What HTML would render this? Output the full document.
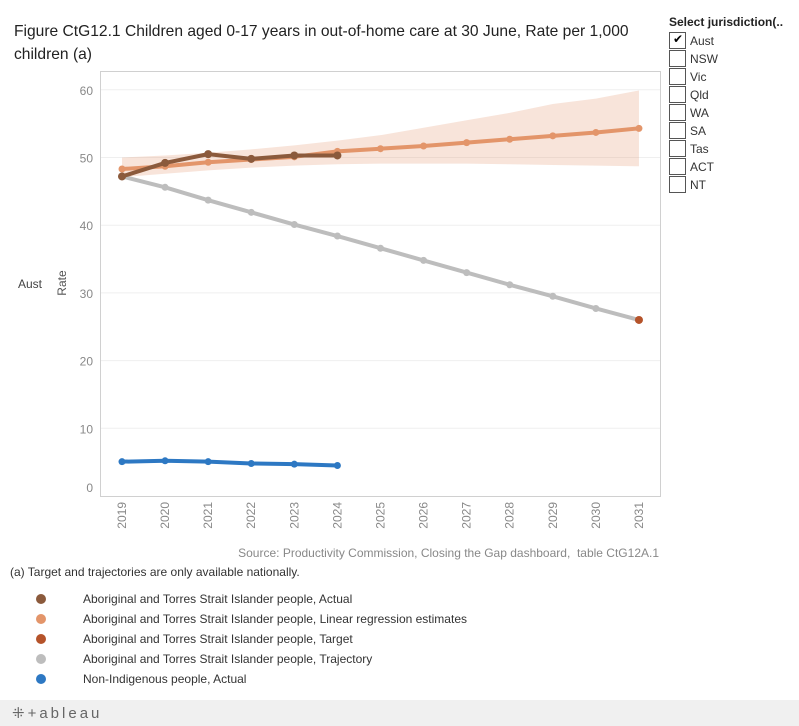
<!DOCTYPE html>
<html><head><meta charset="utf-8"><style>
body{margin:0;width:799px;height:726px;background:#fff;font-family:"Liberation Sans",sans-serif;position:relative;overflow:hidden}
.a{position:absolute}
.title{left:14px;top:20px;font-size:15.6px;color:#222;line-height:23px;width:640px}
.cb{position:absolute;left:669px;width:17px;height:17px;border:1px solid #555;box-sizing:border-box;background:#fff}
.cl{position:absolute;left:690px;font-size:12px;color:#333}
.leg{position:absolute;font-size:12px;color:#333}
.dot{position:absolute;left:36px;width:10px;height:10px;border-radius:50%}
</style></head><body>
<div class="a title">Figure CtG12.1 Children aged 0-17 years in out-of-home care at 30 June, Rate per 1,000 children (a)</div>
<div class="a" style="left:669px;top:15px;font-size:12px;font-weight:bold;color:#222">Select jurisdiction(..</div>
<div id="filters"></div>
<div class="a" style="left:18px;top:277px;font-size:12px;color:#444">Aust</div>
<svg class="a" style="left:0;top:0" width="799" height="726" id="chart"></svg>
<div class="a" style="right:140px;top:546px;font-size:12px;color:#888;left:auto">Source: Productivity Commission, Closing the Gap dashboard,&nbsp; table CtG12A.1</div>
<div class="a" style="left:10px;top:565px;font-size:12px;color:#333">(a) Target and trajectories are only available nationally.</div>
<div id="legend"></div>
<div class="a" style="left:0;top:700px;width:799px;height:26px;background:#f0f0f0"><span style="position:absolute;left:12px;top:4px;font-size:15px;color:#666;letter-spacing:3px">⁜+ableau</span></div>
<script>
const years=[2019,2020,2021,2022,2023,2024,2025,2026,2027,2028,2029,2030,2031];
const yTicks=[0,10,20,30,40,50,60];
const actual=[47.2,49.2,50.5,49.8,50.3,50.3];
const regression=[48.3,48.7,49.3,49.7,50.1,50.9,51.3,51.7,52.2,52.7,53.2,53.7,54.3];
const bandUpper=[50.0,50.3,50.7,51.2,51.8,52.5,53.3,54.4,55.5,56.6,57.9,58.7,59.9];
const bandLower=[47.1,47.6,48.1,48.5,48.8,49.0,49.1,49.1,49.1,49.0,48.9,48.8,48.7];
const trajectory=[47.2,45.6,43.7,41.9,40.1,38.4,36.6,34.8,33.0,31.2,29.5,27.7,26.0];
const target=[26.0];
const nonIndig=[5.07,5.2,5.07,4.8,4.7,4.5];
const juris=["Aust","NSW","Vic","Qld","WA","SA","Tas","ACT","NT"];
const legendItems=[["Aboriginal and Torres Strait Islander people, Actual","#8b5a3c"],["Aboriginal and Torres Strait Islander people, Linear regression estimates","#e3956a"],["Aboriginal and Torres Strait Islander people, Target","#b5532a"],["Aboriginal and Torres Strait Islander people, Trajectory","#bdbdbd"],["Non-Indigenous people, Actual","#2d78c3"]];
const NS="http://www.w3.org/2000/svg";
const svg=document.getElementById('chart');
const X=y=>122+(y-2019)*43.08;
const Y=v=>496-v*6.77;
function mk(t,a,p){const e=document.createElementNS(NS,t);for(const k in a)e.setAttribute(k,a[k]);(p||svg).appendChild(e);return e;}
let e;
e=mk('rect',{x:100.5,y:71.5,width:560,height:425,fill:'none',stroke:'#d0d0d0'});


yTicks.forEach(t=>{
 if(t>0){e=mk('line',{x1:101,x2:660,y1:Y(t),y2:Y(t),stroke:'#efefef'});
 
 }
 const ly=t===0?Y(t)-4:Y(t)+5;
 e=mk('text',{x:93,y:ly,'text-anchor':'end','font-size':12,fill:'#888'});e.textContent=t;
 
 
});
e=mk('text',{x:66,y:283,'text-anchor':'middle','font-size':12,fill:'#555',transform:'rotate(-90 66 283)'});e.textContent='Rate';


years.forEach(y=>{
 e=mk('text',{x:0,y:0,'font-size':12,fill:'#888','text-anchor':'end',transform:`translate(${X(y)+4},502) rotate(-90)`});e.textContent=y;
 
 
});
let pts=years.map((y,i)=>X(y)+','+Y(bandUpper[i])).concat(years.map((y,i)=>X(y)+','+Y(bandLower[i])).reverse());
e=mk('polygon',{points:pts.join(' '),fill:'#e3956a','fill-opacity':0.25});


function series(vals,color,w,r,name){
 const p=vals.map((v,i)=>X(years[i])+','+Y(v)).join(' ');
 e=mk('polyline',{points:p,fill:'none',stroke:color,'stroke-width':w,'stroke-linejoin':'round'});
 
 
 vals.forEach((v,i)=>{e=mk('circle',{cx:X(years[i]),cy:Y(v),r:r,fill:color});
 
 });
}
series(trajectory,'#bdbdbd',4,3.5,'trajectory');
series(regression,'#e3956a',4,3.5,'regression');
series(actual,'#8b5a3c',4,4,'actual');
series(nonIndig,'#2d78c3',4,3.5,'non-indigenous');
e=mk('circle',{cx:X(2031),cy:Y(target[0]),r:4,fill:'#b5532a'});


const f=document.getElementById('filters');
juris.forEach((j,i)=>{
 const b=document.createElement('div');b.className='cb';b.style.top=(32+i*18)+'px';
 if(i===0){b.innerHTML='<span style="position:absolute;left:3px;top:-1px;font-size:12px">✔</span>';}
 
 
 f.appendChild(b);
 const l=document.createElement('div');l.className='cl';l.style.top=(34+i*18)+'px';l.textContent=j;
 
 
 f.appendChild(l);
});
const lg=document.getElementById('legend');
legendItems.forEach((it,i)=>{
 const d=document.createElement('div');d.className='dot';d.style.top=(594+i*20)+'px';d.style.background=it[1];
 
 
 lg.appendChild(d);
 const t=document.createElement('div');t.className='leg';t.style.left='83px';t.style.top=(592+i*20)+'px';t.textContent=it[0];
 
 
 lg.appendChild(t);
});
</script>
</body></html>
